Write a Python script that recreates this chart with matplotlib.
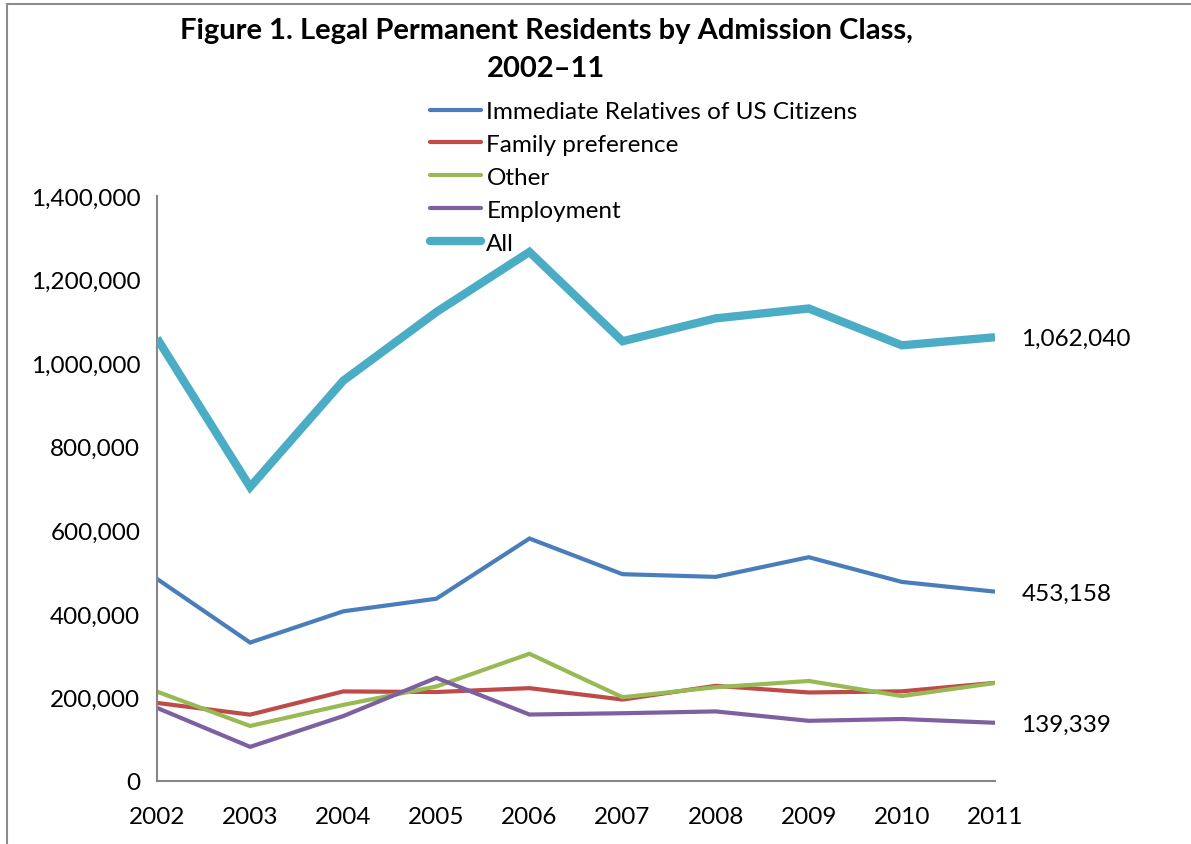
import matplotlib
matplotlib.use("Agg")
import matplotlib.pyplot as plt
from matplotlib.lines import Line2D
from matplotlib.patches import Rectangle

years = [2002, 2003, 2004, 2005, 2006, 2007, 2008, 2009, 2010, 2011]
immediate = [483676, 331286, 406074, 436231, 580348, 494920, 488483, 535554, 476414, 453158]
family = [186880, 158796, 214355, 212970, 222229, 194900, 227761, 211859, 214589, 234931]
other = [213832, 131733, 182124, 226179, 304471, 200419, 224371, 239371, 203279, 234612]
employment = [174968, 81727, 155330, 246877, 159081, 162176, 166511, 144034, 148343, 139339]
all_total = [1059356, 703542, 957883, 1122257, 1266129, 1052415, 1107126, 1130818, 1042625, 1062040]

series_names = ["Immediate Relatives of US Citizens", "Family preference", "Other", "Employment", "All"]
yticks = [0, 200000, 400000, 600000, 800000, 1000000, 1200000, 1400000]
end_labels = ["1,062,040", "453,158", "139,339"]

colors = ["#4A7EBB", "#BE4B48", "#98B954", "#7D60A0", "#4BACC6"]
widths = [3.0, 3.0, 3.0, 3.0, 6.0]

FONT = "Lato"
plt.rcParams["font.family"] = [FONT, "DejaVu Sans"]
FS = 17.5

W, H = 1191, 845
fig = plt.figure(figsize=(W / 100, H / 100), dpi=100)
fig.patch.set_facecolor("white")

# chart-area border
fig.patches.append(Rectangle((7 / W, -0.1), 1.2, 1 - 5 / H + 0.1, transform=fig.transFigure,
                             fill=False, edgecolor="#8C8C8C", linewidth=1.5))

ax = fig.add_axes([157 / W, 1 - 782 / H, (995 - 157) / W, (782 - 197) / H])
data = [immediate, family, other, employment, all_total]
for i in range(5):
    ax.plot(years, data[i], color=colors[i], linewidth=widths[i], solid_joinstyle="miter",
            solid_capstyle="butt", zorder=3 if i == 4 else 2)

ax.set_xlim(2002, 2011)
ax.set_ylim(0, 1400000)
ax.set_yticks(yticks)
ax.set_yticklabels([f"{v:,}" for v in yticks])
ax.set_xticks(years)
ax.set_xticklabels([str(y) for y in years])
ax.tick_params(axis="both", length=0, labelsize=FS, colors="black")
ax.tick_params(axis="y", pad=12)
ax.tick_params(axis="x", pad=18)
for s in ["top", "right"]:
    ax.spines[s].set_visible(False)
for s in ["left", "bottom"]:
    ax.spines[s].set_color("#868686")
    ax.spines[s].set_linewidth(1.5)

# end labels
for vals, lab in zip([all_total, immediate, employment], end_labels):
    ax.annotate(lab, xy=(years[-1], vals[-1]), xytext=(19, -1), textcoords="offset points",
                ha="left", va="center", fontsize=FS, annotation_clip=False)

# legend
handles = [Line2D([0], [0], color=c, linewidth=w, solid_capstyle="round") for c, w in zip(colors, widths)]
leg = fig.legend(handles, series_names, loc="upper left", bbox_to_anchor=(430 / W, 1 - 102 / H),
                 frameon=False, fontsize=FS, handlelength=2.1, handletextpad=0.22,
                 labelspacing=0.49, borderaxespad=0, borderpad=0)

# title
fig.text(546 / W, 1 - 31 / H, "Figure 1. Legal Permanent Residents by Admission Class,",
         ha="center", va="center", fontsize=21, fontweight="bold")
fig.text(546 / W, 1 - 69 / H, "2002\u201311", ha="center", va="center", fontsize=21, fontweight="bold")

fig.savefig("out.png", dpi=100, facecolor="white")
